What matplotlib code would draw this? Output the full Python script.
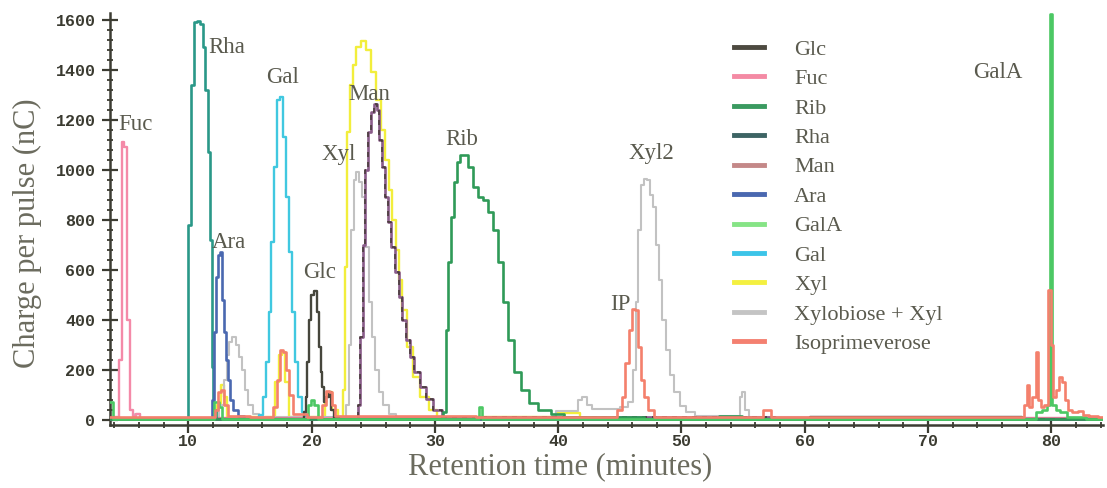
import matplotlib
matplotlib.use("Agg")
import matplotlib.pyplot as plt
from matplotlib.lines import Line2D
from matplotlib.ticker import MultipleLocator

# retention time (min) / charge per pulse (nC)
fuc_t = [3.64, 4.25, 4.45, 4.7, 4.9, 5.15, 5.35, 5.6, 5.9, 6.3, 84.2]
fuc_v = [8, 10, 240, 1110, 1090, 400, 40, 15, 22, 8, 8]

rha_t = [3.64, 9.9, 10.05, 10.3, 10.55, 10.8, 11.05, 11.25, 11.45, 11.65, 11.8, 11.95, 12.1, 12.3, 84.2]
rha_v = [5, 5, 780, 1340, 1590, 1595, 1585, 1490, 1320, 1070, 720, 210, 40, 5, 5]

ara_t = [3.64, 11.8, 12.0, 12.15, 12.3, 12.45, 12.65, 12.85, 13.0, 13.15, 13.3, 13.5, 13.8, 14.2, 14.8, 84.2]
ara_v = [3, 3, 80, 350, 570, 660, 670, 480, 350, 240, 160, 80, 40, 15, 5, 3]

xylob_t = [3.64, 5.5, 5.9, 6.3, 12.3, 12.7, 13.0, 13.2, 13.45, 13.7, 13.95, 14.2, 14.45, 14.7, 15.0, 15.4,
           16.0, 22.7, 22.9, 23.1, 23.3, 23.5, 23.75, 24.0, 24.2, 24.5, 24.75, 25.0, 25.3, 25.6, 26.0, 26.5,
           27.2, 39.6, 40.0, 41.4, 41.8, 42.1, 42.5, 43.0, 44.5, 45.5, 45.9, 46.2, 46.4, 46.6, 46.8, 47.05,
           47.3, 47.55, 47.8, 48.05, 48.3, 48.6, 48.9, 49.2, 49.6, 50.1, 50.7, 51.5, 54.6, 54.85, 55.05, 55.3,
           55.6, 84.2]
xylob_v = [5, 5, 22, 8, 8, 60, 160, 260, 310, 330, 300, 250, 200, 120, 60, 25,
           10, 10, 60, 300, 760, 960, 990, 950, 890, 690, 470, 330, 200, 110, 60, 25,
           10, 12, 35, 35, 80, 90, 60, 45, 42, 50, 70, 200, 470, 760, 940, 965,
           960, 900, 850, 700, 560, 400, 280, 180, 110, 55, 30, 15, 15, 90, 110, 40,
           12, 8]

gal_t = [3.64, 15.6, 15.9, 16.15, 16.4, 16.6, 16.85, 17.1, 17.35, 17.55, 17.8, 18.05, 18.3, 18.55, 18.8,
         19.05, 19.3, 19.7, 84.2]
gal_v = [3, 3, 20, 90, 230, 430, 710, 1010, 1280, 1290, 1130, 890, 670, 430, 230, 90, 30, 8, 3]

glc_t = [3.64, 19.3, 19.5, 19.6, 19.7, 19.85, 20.05, 20.3, 20.5, 20.65, 20.8, 20.95, 21.1, 21.3, 21.5,
         21.7, 22.0, 22.5, 60.3, 60.6, 77.5, 77.8, 84.2]
glc_v = [3, 3, 30, 90, 230, 400, 500, 515, 430, 290, 190, 130, 70, 90, 110, 40, 8, 3, 3, 12, 12, 3, 3]

xyl_t = [3.64, 12.2, 12.5, 12.75, 13.0, 13.3, 16.8, 17.2, 17.45, 17.7, 17.95, 18.3, 20.9, 21.2, 21.45,
         21.8, 22.45, 22.6, 22.75, 22.95, 23.2, 23.45, 23.8, 24.2, 24.6, 25.0, 25.4, 25.8, 26.1, 26.4,
         26.7, 26.9, 27.2, 27.5, 28.0, 28.5, 29.1, 29.9, 30.5, 39.6, 40.0, 41.6, 42.0, 84.2]
xyl_v = [5, 5, 60, 140, 90, 10, 10, 150, 260, 270, 150, 10, 10, 90, 110,
         40, 10, 120, 610, 1150, 1340, 1420, 1490, 1515, 1480, 1390, 1280, 1160, 1040, 920,
         800, 680, 560, 440, 290, 170, 92, 40, 10, 10, 28, 28, 5, 5]

man_t = [3.64, 23.6, 23.85, 24.05, 24.25, 24.45, 24.65, 24.9, 25.15, 25.4, 25.6, 25.85, 26.1, 26.35,
         26.6, 26.9, 27.2, 27.5, 27.8, 28.1, 28.5, 29.0, 29.5, 30.2, 31.0, 84.2]
man_v = [5, 5, 60, 330, 700, 1000, 1150, 1230, 1265, 1240, 1120, 1010, 890, 790,
         690, 590, 490, 400, 320, 250, 190, 130, 85, 40, 12, 5]

rib_t = [3.64, 30.5, 30.8, 31.0, 31.15, 31.4, 31.65, 31.9, 32.2, 32.5, 32.9, 33.3, 33.7, 34.1, 34.5,
         34.9, 35.3, 35.7, 36.1, 36.7, 37.2, 38.0, 38.8, 40.0, 41.0, 52.9, 53.2, 54.8, 55.1, 84.2]
rib_v = [5, 5, 30, 360, 630, 810, 950, 1030, 1060, 1060, 1010, 930, 890, 880, 830,
         760, 630, 470, 320, 190, 120, 68, 40, 25, 10, 5, 14, 14, 5, 5]

gala_t = [3.64, 3.8, 4.0, 11.9, 12.3, 12.6, 12.9, 19.6, 19.85, 20.1, 20.35, 20.6, 33.5, 33.7, 33.9,
          78.5, 79.0, 79.5, 79.8, 80.0, 80.2, 80.5, 81.0, 81.5, 84.2]
gala_v = [70, 70, 5, 5, 70, 50, 5, 5, 60, 80, 60, 5, 5, 50, 5,
          5, 30, 40, 60, 1625, 60, 40, 30, 10, 5]

iso_t = [3.64, 12.0, 12.3, 12.55, 12.8, 13.05, 13.3, 16.7, 17.0, 17.3, 17.55, 17.8, 18.05, 18.3, 18.6,
         20.7, 21.0, 21.25, 21.5, 21.75, 22.0, 44.6, 45.0, 45.3, 45.6, 45.85, 46.1, 46.35, 46.6, 46.85,
         47.1, 47.5, 48.0, 56.5, 56.8, 57.1, 57.4, 77.6, 77.9, 78.1, 78.3, 78.6, 78.85, 79.05, 79.3,
         79.6, 79.85, 80.05, 80.25, 80.5, 80.75, 81.0, 81.25, 81.5, 81.9, 82.4, 82.8, 83.4, 84.2]
iso_v = [10, 10, 40, 110, 120, 60, 15, 10, 50, 160, 280, 270, 200, 100, 25,
         12, 60, 115, 110, 60, 15, 10, 40, 92, 228, 360, 445, 440, 292, 160,
         92, 40, 12, 10, 40, 40, 12, 10, 60, 140, 50, 90, 270, 80, 50,
         60, 520, 300, 90, 120, 170, 150, 80, 40, 30, 35, 20, 15, 12]

legend_names = ["Glc", "Fuc", "Rib", "Rha", "Man", "Ara", "GalA", "Gal", "Xyl",
                "Xylobiose + Xyl", "Isoprimeverose"]
legend_colors = ["#4d4a40", "#f48aa4", "#3a9a60", "#3d6464", "#c48888", "#4a68b0",
                 "#86e486", "#3cc4e8", "#f4f040", "#c4c4c4", "#f48070"]

peak_labels = ["Fuc", "Rha", "Gal", "Ara", "Glc", "Xyl", "Man", "Rib", "Xyl2", "IP", "GalA"]
label_x = [4.3, 11.6, 16.3, 11.9, 19.3, 20.8, 23.0, 30.8, 45.7, 44.2, 73.7]
label_y = [1180, 1490, 1370, 710, 590, 1060, 1300, 1120, 1065, 460, 1390]

text_col = "#5a5a4e"
axis_col = "#3c3c32"

fig = plt.figure(figsize=(11.07, 4.88), dpi=100)
ax = fig.add_axes([0.0994, 0.1291, 0.897, 0.8443])

ds = "steps-mid"
ax.plot(xyl_t, xyl_v, color="#f2ee3c", lw=1.7, drawstyle=ds, zorder=2)
ax.plot(xylob_t, xylob_v, color="#c2c2c2", lw=1.5, drawstyle=ds, zorder=2)
ax.plot(gal_t, gal_v, color="#40c8e0", lw=1.7, drawstyle=ds, zorder=3)
ax.plot(fuc_t, fuc_v, color="#f48aa8", lw=1.7, drawstyle=ds, zorder=3)
ax.plot(rha_t, rha_v, color="#2a9888", lw=1.9, drawstyle=ds, zorder=3)
ax.plot(ara_t, ara_v, color="#4a68b0", lw=1.9, drawstyle=ds, zorder=3)
ax.plot(glc_t, glc_v, color="#46463c", lw=1.7, drawstyle=ds, zorder=3)
ax.plot(man_t, man_v, color="#8a5c8a", lw=1.9, drawstyle=ds, zorder=3)
ax.plot(man_t, man_v, color="#4a3c3c", lw=1.2, drawstyle=ds, ls=(0, (3, 3)), zorder=3)
ax.plot(rib_t, rib_v, color="#2f9a58", lw=1.9, drawstyle=ds, zorder=3)
ax.plot(gala_t, gala_v, color="#4cc864", lw=1.9, drawstyle=ds, zorder=3)
ax.plot(iso_t, iso_v, color="#f4806c", lw=1.9, drawstyle=ds, zorder=4)

for s, x, y in zip(peak_labels, label_x, label_y):
    ax.text(x, y, s, fontsize=16.5, family="Liberation Serif", color=text_col,
            ha="left", va="center", zorder=5)

handles = [Line2D([], [], color=c, lw=3.5) for c in legend_colors]
leg = fig.legend(handles, legend_names, loc="upper left",
                 bbox_to_anchor=(723 / 1107, 1 - 28 / 488), frameon=False,
                 borderpad=0, handlelength=1.35, handletextpad=1.35, labelspacing=0.4,
                 prop={"family": "Liberation Serif", "size": 16})
for t in leg.get_texts():
    t.set_color(text_col)

ax.set_xlim(3.64, 84.2)
ax.set_ylim(-20, 1628)
ax.xaxis.set_major_locator(MultipleLocator(10))
ax.xaxis.set_minor_locator(MultipleLocator(2))
ax.yaxis.set_major_locator(MultipleLocator(200))
ax.yaxis.set_minor_locator(MultipleLocator(40))

for side in ["top", "right"]:
    ax.spines[side].set_visible(False)
for side in ["left", "bottom"]:
    ax.spines[side].set_color(axis_col)
    ax.spines[side].set_linewidth(1.8)

ax.tick_params(which="major", direction="inout", length=11, width=1.6, color=axis_col)
ax.tick_params(which="minor", direction="inout", length=5, width=1.3, color=axis_col)
ax.tick_params(axis="x", which="major", pad=1)
ax.tick_params(axis="y", which="major", pad=5)
for lab in ax.get_xticklabels() + ax.get_yticklabels():
    lab.set_family("Liberation Mono")
    lab.set_fontweight("bold")
    lab.set_fontsize(12)
    lab.set_color("#3a3a30")

ax.set_xlabel("Retention time (minutes)", fontsize=22, family="Liberation Serif", color="#6b6b5e")
ax.set_ylabel("Charge per pulse (nC)", fontsize=22, family="Liberation Serif", color="#6b6b5e")
ax.xaxis.set_label_coords(0.453, -0.066)
ax.yaxis.set_label_coords(-0.0685, 0.466)

fig.savefig("out.png", dpi=100)
